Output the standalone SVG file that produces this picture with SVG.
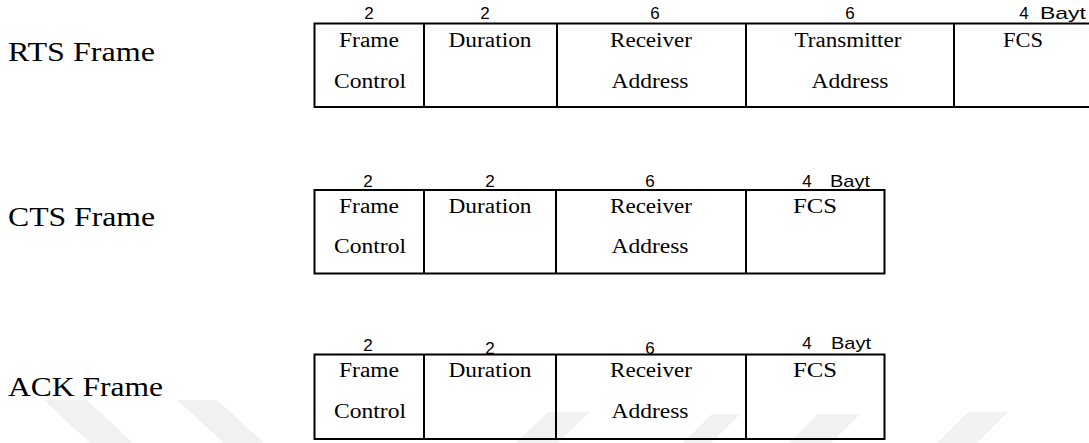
<svg xmlns="http://www.w3.org/2000/svg" width="1089" height="443" viewBox="0 0 1089 443">
  <style>
    .frame { fill: none; stroke: #000; stroke-width: 2; }
    .div { stroke: #000; stroke-width: 2; }
    .cell { font-family: "Liberation Serif", "Times New Roman", serif; font-size: 20px; fill: #000; text-anchor: middle; }
    .size { font-family: "Liberation Sans", Arial, sans-serif; font-size: 17px; fill: #000; text-anchor: middle; }
    .unit { font-family: "Liberation Sans", Arial, sans-serif; font-size: 17px; fill: #000; }
    .label { font-family: "Liberation Serif", "Times New Roman", serif; font-size: 28px; fill: #000; }
    .mark { fill: #f1f1f1; }
  </style>

  <!-- faint background marks along the lower edge -->
  <g id="background-marks">
    <polygon class="mark" points="44,400 87,400 133,443 90,443"/>
    <polygon class="mark" points="177,400 217,400 264,443 224,443"/>
    <polygon class="mark" points="548,412 590,412 558,443 516,443"/>
    <polygon class="mark" points="712,414 740,414 711,443 683,443"/>
    <polygon class="mark" points="818,414 860,414 831,443 789,443"/>
    <polygon class="mark" points="968,412 1008,412 977,443 937,443"/>
  </g>

  <!-- left-hand frame names -->
  <g id="labels">
    <text class="label" x="8" y="61" textLength="147" lengthAdjust="spacingAndGlyphs">RTS Frame</text>
    <text class="label" x="8" y="226" textLength="147" lengthAdjust="spacingAndGlyphs">CTS Frame</text>
    <text class="label" x="8" y="396" textLength="155" lengthAdjust="spacingAndGlyphs">ACK Frame</text>
  </g>

  <!-- RTS frame: 2 + 2 + 6 + 6 + 4 bytes -->
  <g id="rts-frame">
    <rect class="frame" x="314.5" y="23.5" width="778" height="83.5"/>
    <line class="div" x1="424" y1="23.5" x2="424" y2="107"/>
    <line class="div" x1="557" y1="23.5" x2="557" y2="107"/>
    <line class="div" x1="746" y1="23.5" x2="746" y2="107"/>
    <line class="div" x1="954" y1="23.5" x2="954" y2="107"/>
    <g id="rts-frame-control">
      <text class="size" x="369" y="19" font-size="18">2</text>
      <text class="cell" x="369" y="46.7" textLength="60" lengthAdjust="spacingAndGlyphs">Frame</text>
      <text class="cell" x="370" y="88.3" textLength="72" lengthAdjust="spacingAndGlyphs">Control</text>
    </g>
    <g id="rts-duration">
      <text class="size" x="485" y="19" font-size="18">2</text>
      <text class="cell" x="490" y="46.7" textLength="83" lengthAdjust="spacingAndGlyphs">Duration</text>
    </g>
    <g id="rts-receiver-address">
      <text class="size" x="655" y="19" font-size="18">6</text>
      <text class="cell" x="651" y="46.7" textLength="82" lengthAdjust="spacingAndGlyphs">Receiver</text>
      <text class="cell" x="650" y="88.3" textLength="77" lengthAdjust="spacingAndGlyphs">Address</text>
    </g>
    <g id="rts-transmitter-address">
      <text class="size" x="850" y="19" font-size="18">6</text>
      <text class="cell" x="848" y="46.7" textLength="107" lengthAdjust="spacingAndGlyphs">Transmitter</text>
      <text class="cell" x="850" y="88.3" textLength="77" lengthAdjust="spacingAndGlyphs">Address</text>
    </g>
    <g id="rts-fcs">
      <text class="size" x="1024" y="19" font-size="15">4</text>
      <text class="unit" x="1040" y="19" textLength="46" lengthAdjust="spacingAndGlyphs" font-size="18">Bayt</text>
      <text class="cell" x="1023" y="46.7" textLength="40" lengthAdjust="spacingAndGlyphs">FCS</text>
    </g>
  </g>

  <!-- CTS frame: 2 + 2 + 6 + 4 bytes -->
  <g id="cts-frame">
    <rect class="frame" x="314.5" y="190" width="570" height="83.5"/>
    <line class="div" x1="424" y1="190" x2="424" y2="273.5"/>
    <line class="div" x1="556" y1="190" x2="556" y2="273.5"/>
    <line class="div" x1="746" y1="190" x2="746" y2="273.5"/>
    <g id="cts-frame-control">
      <text class="size" x="368" y="186.5">2</text>
      <text class="cell" x="369" y="212.7" textLength="60" lengthAdjust="spacingAndGlyphs">Frame</text>
      <text class="cell" x="370" y="253.3" textLength="72" lengthAdjust="spacingAndGlyphs">Control</text>
    </g>
    <g id="cts-duration">
      <text class="size" x="490" y="186.5">2</text>
      <text class="cell" x="490" y="212.7" textLength="83" lengthAdjust="spacingAndGlyphs">Duration</text>
    </g>
    <g id="cts-receiver-address">
      <text class="size" x="650" y="186.5">6</text>
      <text class="cell" x="651" y="212.7" textLength="82" lengthAdjust="spacingAndGlyphs">Receiver</text>
      <text class="cell" x="650" y="253.3" textLength="77" lengthAdjust="spacingAndGlyphs">Address</text>
    </g>
    <g id="cts-fcs">
      <text class="size" x="807" y="186.5" font-size="15">4</text>
      <text class="unit" x="830" y="186.5" textLength="40" lengthAdjust="spacingAndGlyphs">Bayt</text>
      <text class="cell" x="815" y="212.7" textLength="44" lengthAdjust="spacingAndGlyphs">FCS</text>
    </g>
  </g>

  <!-- ACK frame: 2 + 2 + 6 + 4 bytes -->
  <g id="ack-frame">
    <rect class="frame" x="314.5" y="354.5" width="570" height="84.5"/>
    <line class="div" x1="424" y1="354.5" x2="424" y2="439"/>
    <line class="div" x1="556" y1="354.5" x2="556" y2="439"/>
    <line class="div" x1="746" y1="354.5" x2="746" y2="439"/>
    <g id="ack-frame-control">
      <text class="size" x="368" y="350.5">2</text>
      <text class="cell" x="369" y="376.7" textLength="60" lengthAdjust="spacingAndGlyphs">Frame</text>
      <text class="cell" x="370" y="418.3" textLength="72" lengthAdjust="spacingAndGlyphs">Control</text>
    </g>
    <g id="ack-duration">
      <text class="size" x="490" y="353.5">2</text>
      <text class="cell" x="490" y="376.7" textLength="83" lengthAdjust="spacingAndGlyphs">Duration</text>
    </g>
    <g id="ack-receiver-address">
      <text class="size" x="650" y="353.5">6</text>
      <text class="cell" x="651" y="376.7" textLength="82" lengthAdjust="spacingAndGlyphs">Receiver</text>
      <text class="cell" x="650" y="418.3" textLength="77" lengthAdjust="spacingAndGlyphs">Address</text>
    </g>
    <g id="ack-fcs">
      <text class="size" x="807" y="348.5" font-size="15">4</text>
      <text class="unit" x="831" y="348.5" textLength="40" lengthAdjust="spacingAndGlyphs">Bayt</text>
      <text class="cell" x="815" y="376.7" textLength="44" lengthAdjust="spacingAndGlyphs">FCS</text>
    </g>
  </g>
</svg>
